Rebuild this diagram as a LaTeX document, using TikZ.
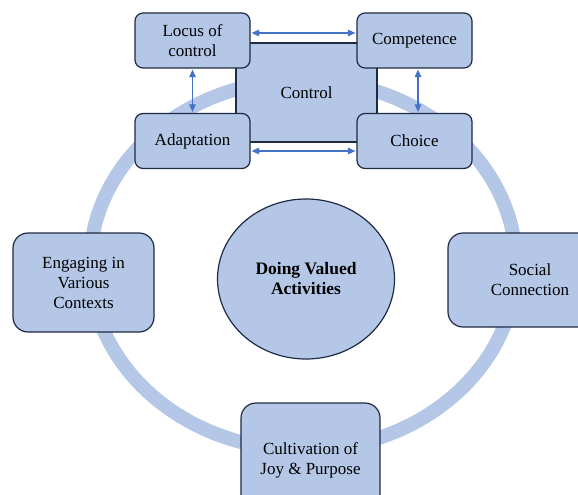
\documentclass[tikz,border=0pt]{standalone}
\usepackage{fontspec}
\setmainfont{Liberation Serif}
\usepackage{xcolor}
\usepackage{tikz}
\usetikzlibrary{arrows.meta,shapes.geometric,positioning}
\definecolor{paleblue}{HTML}{B4C7E7}
\definecolor{edge}{HTML}{1F2A44}
\definecolor{arrowblue}{HTML}{4472C4}
\tikzset{
  ring/.style={draw=paleblue, line width=14pt},
  sbox/.style={draw=edge, fill=paleblue, line width=1.2pt, rounded corners=8pt, minimum width=115pt, minimum height=55pt, inner sep=0pt, align=center, font=\fontsize{17}{20}\selectfont},
  bbox/.style={sbox, rounded corners=15pt, minimum width=141pt, minimum height=99pt},
  ctrlbox/.style={sbox, rounded corners=0pt, minimum width=141pt, minimum height=99pt},
  hub/.style={ellipse, draw=edge, fill=paleblue, line width=1.2pt, minimum width=177pt, minimum height=160pt, inner sep=0pt, align=center, font=\fontsize{17.5}{20}\selectfont\bfseries},
  link/.style={draw=arrowblue, line width=1.1pt, {Triangle[length=7.5pt,width=6.5pt]}-{Triangle[length=7.5pt,width=6.5pt]}, shorten <=1pt, shorten >=1pt},
}

\begin{document}
\begin{tikzpicture}[x=1pt,y=-1pt]
\useasboundingbox (0,0) rectangle (578,495);

% outer ring
\draw[ring] (303,265) ellipse [x radius=213pt, y radius=185pt];

% control cluster
\node[ctrlbox] (ctrl) at (306.5,92.5) {Control};
\node[sbox] (locus) at (192.5,40.5) {Locus of\\control};
\node[sbox] (comp) at (414.5,40.5) {Competence};
\node[sbox] (adapt) at (192.5,141) {Adaptation};
\node[sbox] (choice) at (414.5,141) {Choice};

\draw[link] ([yshift=7.5pt]locus.east) -- ([yshift=7.5pt]comp.west);
\draw[link] ([yshift=-10pt]adapt.east) -- ([yshift=-10pt]choice.west);
\draw[link] (locus.south) -- (adapt.north);
\draw[link] ([xshift=3.5pt]comp.south) -- ([xshift=3.5pt]choice.north);

% other domains
\node[bbox] (engage) at (83.5,282.5) {Engaging in\\Various\\Contexts};
\node[bbox, minimum width=164pt, minimum height=94pt] (social) at (530,280) {Social\\Connection};
\node[bbox, minimum width=139pt, minimum height=114pt] (joy) at (310.5,460) {Cultivation of\\Joy \& Purpose};

% centre
\node[hub] (doing) at (306,279) {Doing Valued\\Activities};
\end{tikzpicture}
\end{document}
